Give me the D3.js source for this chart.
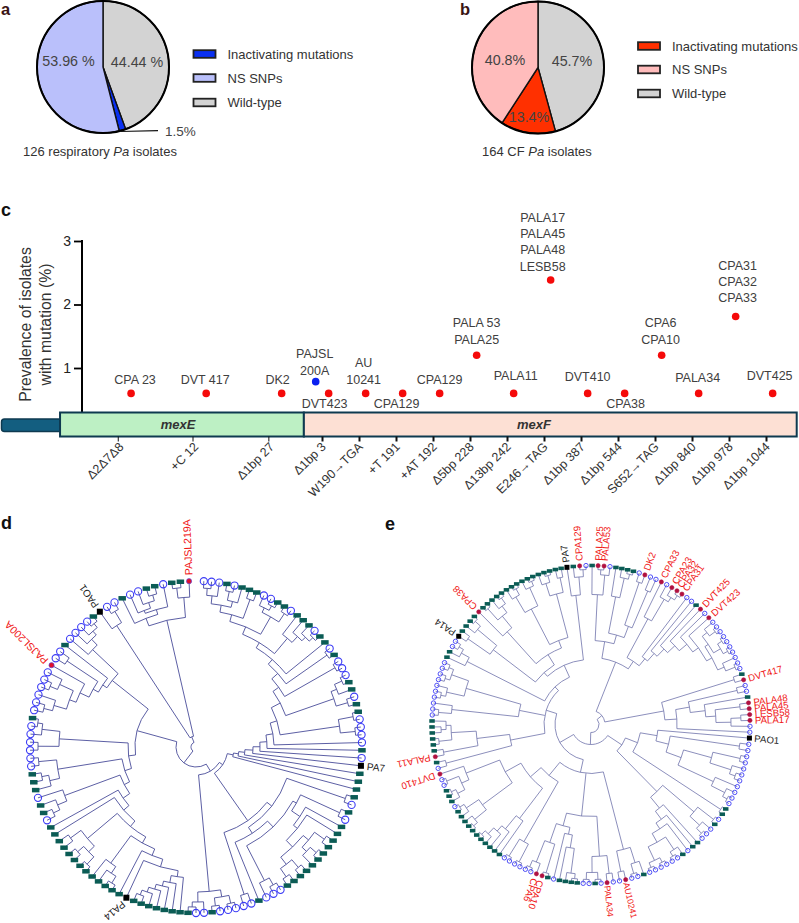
<!DOCTYPE html>
<html><head><meta charset="utf-8">
<script src="https://cdn.jsdelivr.net/npm/d3@7/dist/d3.min.js"></script>
<style>html,body{margin:0;padding:0;background:#fff}svg{display:block}text{font-family:"Liberation Sans",Arial,sans-serif}</style>
</head><body><svg id="chart" width="799" height="923"></svg>
<script>
// ---------- Panels a, b ----------
const legendLabels = ["Inactivating mutations","NS SNPs","Wild-type"];
const pieCategories = ["Wild-type","Inactivating mutations","NS SNPs"];
const pieAValues = [44.44,1.6,53.96];
const pieBValues = [45.7,13.4,40.8];
const pieALabels = ["44.44 %","","53.96 %"];
const pieBLabels = ["45.7%","13.4%","40.8%"];

// ---------- Panel c ----------
const yTicks = [0,1,2,3];
const mutationLabels = ["Δ2Δ7Δ8","+C 12","Δ1bp 27","Δ1bp 3","W190→TGA","+T 191","+AT 192","Δ5bp 228","Δ13bp 242","E246→TAG","Δ1bp 387","Δ1bp 544","S652→TAG","Δ1bp 840","Δ1bp 978","Δ1bp 1044"];
const mutationSites = [0.48,2.5,4.55,6,7,8,9,10,11,12,13,14,15,16,17,18];
const dotSites = [0.84,2.87,4.91,5.83,6.18,7.18,8.18,9.18,10.18,11.18,12.18,13.18,14.18,15.18,16.18,17.18,18.18];
const dotPrevalence = [0.6,0.6,0.6,0.785,0.6,0.6,0.6,0.6,1.2,0.6,2.385,0.6,0.6,1.2,0.6,1.81,0.6];
const dotClass = ["cf","cf","cf","resp","cf","cf","cf","cf","cf","cf","cf","cf","cf","cf","cf","cf","cf"];
const dotIsolates = [["CPA 23"],["DVT 417"],["DK2"],["PAJSL","200A"],["DVT423"],["AU","10241"],["CPA129"],["CPA129"],["PALA 53","PALA25"],["PALA11"],["PALA17","PALA45","PALA48","LESB58"],["DVT410"],["CPA38"],["CPA6","CPA10"],["PALA34"],["CPA31","CPA32","CPA33"],["DVT425"]];
const geneNames = ["mexE","mexF"];
const geneSpans = [[-1.08,5.51],[5.51,18.83]];

// ---------- Panel d: tree, tips clockwise from the top (c = NS SNP, s = wild-type), numbers = node depth ----------
const dB1="(((c,c)159,c)152,((s,c)159,s)150)144";
const dL1=`(${dB1},(s,s)157)137`;
const dL2=`(${dL1},((c,(c,s)160)155,(s,c)160)150)130`;
const dL3=`(${dL2},(s,(s,(s,(c,s)160)155)150)142)122`;
const dL7=`((((${dL3},s)116,(c,s)160)110,(c,c)160)102,(((c,s)160,s)152,(c,s)158)146)95`;
const dR8=`((((((((${dL7},((s,c)160,(c,c)160)145)85,c)78,s)71,c)64,PA7)57,s)49,s)43,s)38`;
const dW4="(((s,s)158,((s,s)160,s)152)146,((s,s)158,(s,s)158)148)139";
const dW=`((s,c)158,(s,(s,${dW4})130)125)115`;
const dN90=`(((s,c)158,((${dW},((c,c)158,c)150)111,s)103)96,(c,c)155)90`;
const dBottom="(((c,c)160,(c,s)160)152,(c,(c,s)160)155)145";
const dC=`((${dR8},${dN90})32,${dBottom})28`;
const dG="(s,(s,(s,(s,(s,(s,s)158)153)148)143)138)131";
const dH="(((s,s)160,s)152,s)144";
const dI="(((s,s)160,(s,s)158)150,(s,s)155)142";
const dGp="(((c,s)157,s)150,c)140";
const dGq="((s,(s,s)157)150,(c,c)158)140";
const dGr="((c,c)158,(c,(c,s)160)155)137";
const dA68=`(((((((((${dG},PA14)125,s)117,${dH})110,${dI})103,s)96,s)89,${dGp})81,${dGq})75,${dGr})68`;
const dK1="(((c,c)157,c)148,((c,c)158,c)150)135";
const dK=`((((${dK1},PAJSL200A)128,(c,c)155)118,s)112,(c,(c,(c,(c,s)160)155)150)142)107`;
const dUpper="((PAO1,(c,c)158)145,((s,((c,(c,(s,s)158)152)146,c)143)138,((s,s)160,PAJSL219A)150)130)11";
const treeD=`((${dC},(${dA68},${dK})61)20,${dUpper})5`;
const dAnchorTip=[0,35,65,74,117,128];
const dAnchorDeg=[2.7,96.5,180,204.8,324.6,357.6];
const dLabelTilt={PAJSL200A:15,PA14:26};

// ---------- Panel e ----------
const eLeft="((s,((PALA25,PALA53)155,c)150)130,((s,(s,(s,s)155)150)130,((c,DK2)150,(c,c)145)105)93)84";
const eCpaGroup="(CPA33,(c,(CPA23,(CPA32,CPA31)155)150)145)120";
const eLad8="(((c,(c,c)155)148,((c,c)155,(c,c)155)150)142,(c,(c,c)155)145)138";
const eLad1=`(${eCpaGroup},(c,(c,(s,(DVT425,(c,(DVT423,${eLad8})132)125)115)105)95)85)76`;
const eRt="((s,DVT417)150,(((c,c)150,(s,((PALA48,PALA45)150,((LESB58,PALA17)150,c)140)125)115)100,c)86)74";
const eTop=`((${eLeft},${eLad1})67,${eRt})14`;
const eBrB="(((c,c)153,(c,(c,c)153)147)125,(c,(c,(c,c)155)150)135)96";
const eBrU=`((PAO1,((c,c)150,${eBrB})80)67,(s,s)155)50`;
const eBrL="(((c,s)155,(c,(c,c)155)148)135,(s,(s,(c,((s,(c,c)155)150,((c,c)155,(c,c)155)150)135)125)118)108)94";
const eBR1="((s,(c,c)155)145,(AU10241,c)150)129";
const eBM="(((c,PALA34)150,((c,s)155,(c,c)155)148)132,(((((s,s)155,s)150,s)125,c)112,((s,CPA10)155,(CPA6,(c,c)155)148)125)105)92";
const eBLb1="(s,(s,(s,(s,(s,s)155)150)142)135)118";
const eBLb2="((((s,s)155,s)150,(s,(s,c)155)150)135,(((s,(s,s)155)150,(c,c)155)142,DVT410)134)98";
const eBL=`(((c,c)155,(c,c)155)135,(${eBLb1},${eBLb2})80)66`;
const eZr="((c,s)150,((PALA11,s)150,((s,s)153,((s,s)150,s)145)140)115)82";
const eZC="(((c,c)153,c)140,(((c,c)153,c)148,((c,c)153,(c,c)153)148)130)73";
const eZD="(s,(s,(c,c)153)148)139";
const eTL1="((PA14,s)150,(s,(s,s)155)148)123";
const eTL2="(CPA38,((s,s)155,(s,(s,s)155)148)140)125";
const eTL3="((s,(s,s)155)148,(s,(s,s)155)150)130";
const eTL4="((s,(s,s)155)148,(s,s)150)135";
const eTLq="(PA7,(s,(CPA129,c)155)148)130";
const eTL=`((${eTL1},(${eTL2},(${eTL3},${eTL4})90)82)70,${eTLq})65`;
const treeE=`(${eTop},((${eBrU},${eBrL})37,((${eBR1},${eBM},${eBL})49,(${eZr},${eZC},(${eZD},${eTL})52)47)36)20)8`;
const eAnchorTip=[0,34,44,79,118,139,144,161,164];
const eAnchorDeg=[0.4,73.7,94.9,174.2,258.3,303.7,315.1,351.3,358.2];
const eSmallLabels=["AU10241","PALA34"];
const blackTips = ["PA7","PA14","PAO1"];

// ---------- Helpers ----------
const svg = d3.select("#chart");
function parseTree(str){
  let i=0;
  function node(){
    if(str[i]==="("){
      i++; const children=[node()];
      while(str[i]===","){i++;children.push(node());}
      i++; let n="";
      while(i<str.length && /[0-9.]/.test(str[i])) n+=str[i++];
      return {depth:+n,children};
    }
    let n="";
    while(i<str.length && /[^,()]/.test(str[i])) n+=str[i++];
    return {name:n};
  }
  return node();
}

function panelLetter(t,x,y,c,fs){
  svg.append("text").attr("x",x).attr("y",y).attr("font-size",fs||18).attr("font-weight","bold").attr("fill",c||"#111").text(t);
}

function drawPie(o){
  const g=svg.append("g").attr("transform",`translate(${o.cx},${o.cy})`);
  const arcs=d3.pie().sort(null)(o.values);
  const arc=d3.arc().innerRadius(0).outerRadius(o.r);
  g.selectAll("path").data(arcs).join("path").attr("d",arc)
    .attr("fill",(d,i)=>o.colors[pieCategories[i]]).attr("stroke","#111").attr("stroke-width",1.4);
  g.append("circle").attr("r",o.r).attr("fill","none").attr("stroke","#000").attr("stroke-width",2);
  g.selectAll("text").data(arcs).join("text")
    .attr("x",(d,i)=>o.lx[i]).attr("y",(d,i)=>o.ly[i]).attr("text-anchor","middle")
    .attr("font-size",14.3).attr("fill","#444").text((d,i)=>o.labels[i]);
  const leg=svg.append("g");
  const rows=leg.selectAll("g").data(legendLabels).join("g").attr("transform",(d,i)=>`translate(${o.legX},${o.legY[i]})`);
  rows.append("rect").attr("x",0).attr("y",-3.8).attr("width",o.legW).attr("height",7.6)
    .attr("fill",d=>o.colors[d]).attr("stroke","#222").attr("stroke-width",1.8);
  rows.append("text").attr("x",o.legTX).attr("y",4.6).attr("font-size",13).attr("fill","#333").text(d=>d);
  const cap=svg.append("text").attr("x",o.capX).attr("y",156).attr("font-size",13).attr("fill","#333");
  cap.append("tspan").text(o.cap[0]);
  cap.append("tspan").attr("font-style","italic").text("Pa");
  cap.append("tspan").text(" isolates");
}

panelLetter("a",1,15,"#3a1414",16.5);
drawPie({cx:103,cy:67,r:66,values:pieAValues,labels:pieALabels,lx:[34,0,-34.5],ly:[0,0,-1],
  colors:{"Wild-type":"#d3d3d3","Inactivating mutations":"#0a30f2","NS SNPs":"#bac0fb"},
  legX:193.5,legY:[54,78,102.5],legW:22,legTX:34,capX:23,cap:["126 respiratory "]});
svg.append("line").attr("x1",120).attr("y1",131.5).attr("x2",158).attr("y2",130.7).attr("stroke","#111").attr("stroke-width",1.2);
svg.append("text").attr("x",165).attr("y",136).attr("font-size",13.5).attr("fill","#444").text("1.5%");

panelLetter("b",460,15,"#3a1414",16.5);
drawPie({cx:538,cy:67.5,r:66,values:pieBValues,labels:pieBLabels,lx:[34,-9,-33],ly:[-2,54.5,-3],
  colors:{"Wild-type":"#d3d3d3","Inactivating mutations":"#ff3000","NS SNPs":"#ffbcbc"},
  legX:638,legY:[46,69.5,93.5],legW:22,legTX:34,capX:482,cap:["164 CF "]});

// ---------- Panel c ----------
panelLetter("c",1,216);
const siteX=d3.scaleLinear().domain([6,18]).range([322,766]);
const prevY=d3.scaleLinear().domain([0,3]).range([431.5,241]);

const yAxis=svg.append("g").attr("transform","translate(82,0)")
  .call(d3.axisLeft(prevY).tickValues(yTicks.slice(1)).tickFormat(d3.format("d")).tickSize(8).tickSizeOuter(0));
yAxis.selectAll("path.domain").remove();
yAxis.selectAll("line").attr("stroke","#000").attr("stroke-width",1.8);
yAxis.selectAll("text").attr("font-size",14).attr("fill","#222").attr("x",-11);
svg.append("line").attr("x1",82).attr("x2",82).attr("y1",prevY(3)-1).attr("y2",prevY(0)).attr("stroke","#000").attr("stroke-width",2);

["Prevalence of isolates","with mutation (%)"].forEach((t,i)=>{
  svg.append("text").attr("transform",`translate(${30.5+i*20},324.5) rotate(-90)`).attr("text-anchor","middle")
    .attr("font-size",15.8).attr("fill","#333").text(t);
});

// gene map
svg.append("rect").attr("x",1.5).attr("y",419).attr("width",60).attr("height",12.5).attr("rx",3)
  .attr("fill","#135e80").attr("stroke","#0e3a50").attr("stroke-width",1.5);
svg.selectAll("rect.gene").data(geneSpans).join("rect").attr("class","gene")
  .attr("x",d=>siteX(d[0])).attr("width",d=>siteX(d[1])-siteX(d[0]))
  .attr("y",412.5).attr("height",24)
  .attr("fill",(d,i)=>["#bdf0c4","#fde0d4"][i]).attr("stroke","#0e3a50").attr("stroke-width",2);
svg.selectAll("text.gene").data(geneNames).join("text").attr("class","gene")
  .attr("x",(d,i)=>[178,534][i]).attr("y",429).attr("text-anchor","middle")
  .attr("font-size",13).attr("font-weight","bold").attr("font-style","italic").attr("fill","#333").text(d=>d);

// mutation axis
const mutAxis=svg.append("g").attr("transform","translate(0,436.5)")
  .call(d3.axisBottom(siteX).tickValues(mutationSites).tickFormat((d,i)=>mutationLabels[i]).tickSize(5).tickSizeOuter(0));
mutAxis.selectAll("path.domain").remove();
mutAxis.selectAll("line").attr("stroke","#111").attr("stroke-width",(d,i)=>i<3?1:2);
mutAxis.selectAll("text").attr("font-size",12.5).attr("fill","#333")
  .attr("text-anchor","end").attr("transform",(d,i)=>`translate(${i<3?3:1},8) rotate(-45)`).attr("dy",".35em").attr("y",0).attr("x",0);

// dots
svg.selectAll("circle.mut").data(dotSites).join("circle").attr("class","mut")
  .attr("cx",d=>siteX(d)).attr("cy",(d,i)=>prevY(dotPrevalence[i])).attr("r",3.8)
  .attr("fill",(d,i)=>dotClass[i]==="resp"?"#0a20f0":"#f50a0a");

// isolate labels (offsets from their dots)
const labelDx=[4,-1,-4,-1,-4,-2,-6,0,0,2,-8,0,1,-1,-1,2,-3];
const labelBase=[379,379,379,370,403,379,403,379,339,375,266,376,403.7,339,377.7,297.3,375];
dotIsolates.forEach((lines,i)=>{
  lines.forEach((t,j)=>{
    svg.append("text").attr("x",siteX(dotSites[i])+labelDx[i]).attr("y",labelBase[i]-(lines.length-1-j)*16.1+4.5)
      .attr("text-anchor","middle").attr("font-size",12.5).attr("fill","#404040").text(t);
  });
});

// ---------- Trees ----------
function drawTree(o){
  const root=d3.hierarchy(parseTree(o.tree));
  const r=d3.scaleLinear().domain([0,o.tipDepth]).range([0,o.R]);
  const tipAngle=d3.scaleLinear().domain(o.anchorTip).range(o.anchorDeg);
  root.leaves().forEach((l,i)=>{l.x=tipAngle(i);});
  root.eachAfter(n=>{if(n.children){n.x=(n.children[0].x+n.children[n.children.length-1].x)/2;}});
  const ang=x=>(x-90)*Math.PI/180;
  const g=svg.append("g").attr("transform",`translate(${o.cx},${o.cy})`);
  const nodeR=d=>d.children?r(d.data.depth):o.R;
  const p=d3.path();
  root.each(d=>{
    if(d.parent){
      p.moveTo(r(d.parent.data.depth)*Math.cos(ang(d.x)),r(d.parent.data.depth)*Math.sin(ang(d.x)));
      p.lineTo(nodeR(d)*Math.cos(ang(d.x)),nodeR(d)*Math.sin(ang(d.x)));
    }
    if(d.children){
      const xs=d.children.map(c=>c.x);
      const a0=ang(d3.min(xs)),a1=ang(d3.max(xs)),rr=r(d.data.depth);
      p.moveTo(rr*Math.cos(a0),rr*Math.sin(a0));
      p.arc(0,0,rr,a0,a1);
    }
  });
  g.append("path").attr("d",p.toString()).attr("fill","none").attr("stroke",o.lineColor).attr("stroke-width",o.lineWidth);
  const leaves=root.leaves();
  const pos=d=>[o.R*Math.cos(ang(d.x)),o.R*Math.sin(ang(d.x))];
  const t=d=>{const a=d.data.name;return a==="c"||a==="s"?a:(blackTips.includes(a)?"b":"r");};
  g.selectAll("circle.tipc").data(leaves.filter(d=>t(d)==="c")).join("circle").attr("class","tipc")
    .attr("cx",d=>pos(d)[0]).attr("cy",d=>pos(d)[1]).attr("r",o.cR).attr("fill","none").attr("stroke","#3c3cf5").attr("stroke-width",o.cW);
  g.selectAll("rect.tips").data(leaves.filter(d=>t(d)==="s")).join("rect").attr("class","tips")
    .attr("x",d=>pos(d)[0]-o.sW/2).attr("y",d=>pos(d)[1]-o.sH/2).attr("width",o.sW).attr("height",o.sH).attr("fill","#0b5c55");
  g.selectAll("rect.tipb").data(leaves.filter(d=>t(d)==="b")).join("rect").attr("class","tipb")
    .attr("x",d=>pos(d)[0]-o.bS/2).attr("y",d=>pos(d)[1]-o.bS/2).attr("width",o.bS).attr("height",o.bS).attr("fill","#000");
  g.selectAll("circle.tipr").data(leaves.filter(d=>t(d)==="r")).join("circle").attr("class","tipr")
    .attr("cx",d=>pos(d)[0]).attr("cy",d=>pos(d)[1]).attr("r",o.rR).attr("fill",o.redFill).attr("stroke",o.redStroke).attr("stroke-width",.6);
  const tilt=o.tilt||{},small=o.small||[];
  g.selectAll("text").data(leaves.filter(d=>t(d)==="r"||t(d)==="b")).join("text")
    .attr("transform",d=>{
      const a=ang(d.x),q=o.R+(small.includes(d.data.name)?3:o.labelGap);
      return `translate(${q*Math.cos(a)},${q*Math.sin(a)}) rotate(${d.x-90+(tilt[d.data.name]||0)})`;})
    .attr("dy",".35em")
    .attr("font-size",d=>small.includes(d.data.name)?8.7:(t(d)==="b"?o.blackFont:o.redFont))
    .attr("fill",d=>t(d)==="b"?"#222":"#f01616").text(d=>d.data.name);
}

panelLetter("d",1,529);
drawTree({tree:treeD,tipDepth:166,R:166,cx:196,cy:747,anchorTip:dAnchorTip,anchorDeg:dAnchorDeg,tilt:dLabelTilt,lineColor:"#4a4d9a",lineWidth:.9,
  cR:3.6,cW:1.1,sW:7.5,sH:4.5,bS:6,rR:2.6,redFill:"#e0102c",redStroke:"#4a4df0",labelGap:6,redFont:10.5,blackFont:10});
panelLetter("e",385,530);
drawTree({tree:treeE,tipDepth:159,R:159,cx:591,cy:724.5,anchorTip:eAnchorTip,anchorDeg:eAnchorDeg,small:eSmallLabels,lineColor:"#6f72ab",lineWidth:.8,
  cR:2.2,cW:.9,sW:5.5,sH:3.6,bS:5,rR:2.1,redFill:"#b01040",redStroke:"#b01040",labelGap:5,redFont:9.6,blackFont:9.6});
</script></body></html>
